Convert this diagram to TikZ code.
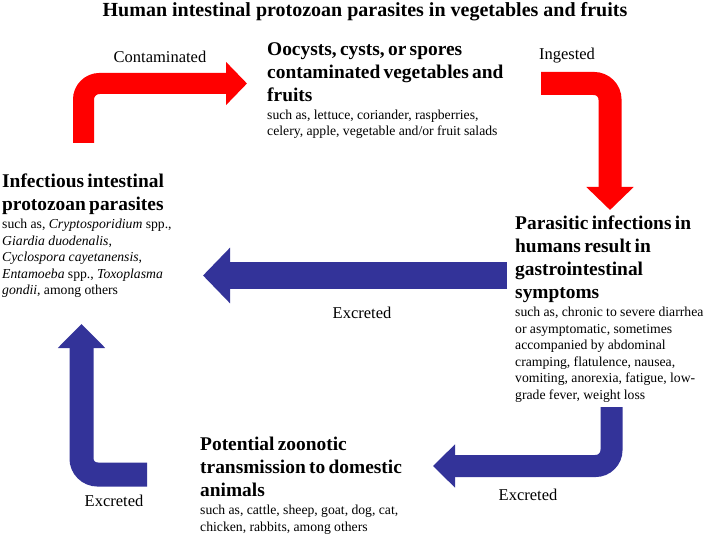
\documentclass[tikz,border=0pt]{standalone}
\usepackage{fontspec}
\setmainfont{Liberation Serif}
\usetikzlibrary{arrows.meta}
\definecolor{flowred}{RGB}{255,0,0}
\definecolor{flowblue}{RGB}{51,51,153}
\setlength{\parindent}{0pt}
\newcommand{\stagetext}[2]{{\fontsize{19.4}{23}\selectfont\bfseries #1\par}\vspace{1.5pt}{\fontsize{13.7}{16.5}\selectfont #2\par}}

\begin{document}
\begin{tikzpicture}[x=1pt, y=-1pt, every node/.style={inner sep=0pt},
    stage/.style={anchor=north west, text width=260pt, align=left},
    flowlabel/.style={font=\fontsize{16.5}{19}\selectfont},
    redflow/.style={draw=flowred, rounded corners=16pt},
    blueflow/.style={draw=flowblue, rounded corners=16pt}]
  \useasboundingbox (0,0) rectangle (708,534);
  \node (title) at (365,12) {\fontsize{20}{24}\selectfont\bfseries Human intestinal protozoan parasites in vegetables and fruits};
  % the four stages
  \node[stage] (produce) at (267,42) {\stagetext{Oocysts, cysts, or spores\\contaminated vegetables and\\fruits}{such as, lettuce, coriander, raspberries,\\celery, apple, vegetable and/or fruit salads}};
  \node[stage] (humans) at (515,216) {\stagetext{Parasitic infections in\\humans result in\\gastrointestinal\\symptoms}{such as, chronic to severe diarrhea\\or asymptomatic, sometimes\\accompanied by abdominal\\cramping, flatulence, nausea,\\vomiting, anorexia, fatigue, low-\\grade fever, weight loss}};
  \node[stage] (animals) at (200,437) {\stagetext{Potential zoonotic\\transmission to domestic\\animals}{such as, cattle, sheep, goat, dog, cat,\\chicken, rabbits, among others}};
  \node[stage] (parasites) at (2,174) {\stagetext{Infectious intestinal\\protozoan parasites}{such as, \textit{Cryptosporidium} spp.,\\\textit{Giardia duodenalis},\\\textit{Cyclospora cayetanensis},\\\textit{Entamoeba} spp., \textit{Toxoplasma}\\\textit{gondii}, among others}};
  % arrow ends
  \coordinate (r1s) at (83.5,143);  \coordinate (r1e) at (247,83.5);
  \coordinate (r2s) at (541,83.5);  \coordinate (r2e) at (610,210);
  \coordinate (b1s) at (507,275.5); \coordinate (b1e) at (203,275.5);
  \coordinate (b2s) at (611.5,407); \coordinate (b2e) at (433,466);
  \coordinate (b3s) at (147,474.5); \coordinate (b3e) at (81.5,324);
  \draw[redflow, line width=21pt, -{Triangle[width=42pt,length=21pt]}] (r1s) |- (r1e);
  \draw[redflow, line width=23pt, -{Triangle[width=46pt,length=23pt]}] (r2s) -| (r2e);
  \draw[blueflow, line width=27pt, -{Triangle[width=54pt,length=27pt]}] (b1s) -- (b1e);
  \draw[blueflow, line width=22pt, -{Triangle[width=42pt,length=22pt]}] (b2s) |- (b2e);
  \draw[blueflow, line width=24pt, -{Triangle[width=46pt,length=24pt]}] (b3s) -| (b3e);
  \node[flowlabel] (contam) at (160,57) {Contaminated};
  \node[flowlabel] (ingest) at (567,56) {Ingested};
  \node[flowlabel] (excr1) at (362,313) {Excreted};
  \node[flowlabel] (excr2) at (528,495) {Excreted};
  \node[flowlabel] (excr3) at (114,501) {Excreted};
\end{tikzpicture}
\end{document}
